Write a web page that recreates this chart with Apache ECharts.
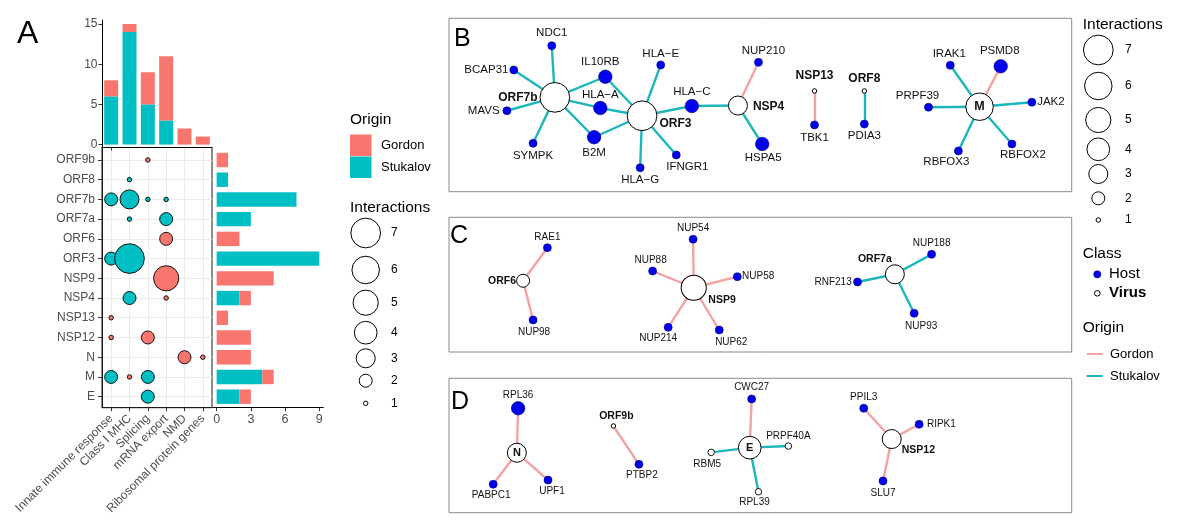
<!DOCTYPE html>
<html><head><meta charset="utf-8">
<script src="https://cdn.jsdelivr.net/npm/echarts@6/dist/echarts.min.js"></script>
<style>html,body{margin:0;padding:0;background:#fff}#c{width:1200px;height:526px}</style>
</head><body><div id="c"></div>
<script>
// ================= DATA =================
// Panel A
const functions = ['Innate immune response', 'Class I MHC', 'Splicing', 'mRNA export', 'NMD', 'Ribosomal protein genes'];
const proteins = ['ORF9b', 'ORF8', 'ORF7b', 'ORF7a', 'ORF6', 'ORF3', 'NSP9', 'NSP4', 'NSP13', 'NSP12', 'N', 'M', 'E'];
const topStukalov = [6, 14, 5, 3, 0, 0];
const topGordon = [2, 1, 4, 8, 2, 1];
const sideStukalov = [0, 1, 7, 3, 0, 9, 0, 2, 0, 0, 0, 4, 2];
const sideGordon = [1, 0, 0, 0, 2, 0, 5, 1, 1, 3, 3, 1, 1];
const topTicks = [0, 5, 10, 15];
const sideTicks = [0, 3, 6, 9];
// [protein, function, origin, interactions]
const bubbles = [
  ['ORF9b', 'Splicing', 'Gordon', 1],
  ['ORF8', 'Class I MHC', 'Stukalov', 1],
  ['ORF7b', 'Innate immune response', 'Stukalov', 2],
  ['ORF7b', 'Class I MHC', 'Stukalov', 3],
  ['ORF7b', 'Splicing', 'Stukalov', 1],
  ['ORF7b', 'mRNA export', 'Stukalov', 1],
  ['ORF7a', 'Class I MHC', 'Stukalov', 1],
  ['ORF7a', 'mRNA export', 'Stukalov', 2],
  ['ORF6', 'mRNA export', 'Gordon', 2],
  ['ORF3', 'Innate immune response', 'Stukalov', 2],
  ['ORF3', 'Class I MHC', 'Stukalov', 7],
  ['NSP9', 'mRNA export', 'Gordon', 5],
  ['NSP4', 'Class I MHC', 'Stukalov', 2],
  ['NSP4', 'mRNA export', 'Gordon', 1],
  ['NSP13', 'Innate immune response', 'Gordon', 1],
  ['NSP12', 'Innate immune response', 'Gordon', 1],
  ['NSP12', 'Splicing', 'Gordon', 2],
  ['N', 'NMD', 'Gordon', 2],
  ['N', 'Ribosomal protein genes', 'Gordon', 1],
  ['M', 'Innate immune response', 'Stukalov', 2],
  ['M', 'Class I MHC', 'Gordon', 1],
  ['M', 'Splicing', 'Stukalov', 2],
  ['E', 'Splicing', 'Gordon', 1],
  ['E', 'Splicing', 'Stukalov', 2]
];
const interactionLevels = [7, 6, 5, 4, 3, 2, 1];

// Networks: nodes [name, class, interactions], edges [source, target, origin]
const nodesB = [
  ['ORF7b', 'Virus', 7], ['ORF3', 'Virus', 7], ['NSP4', 'Virus', 3], ['NSP13', 'Virus', 1], ['ORF8', 'Virus', 1], ['M', 'Virus', 6],
  ['NDC1', 'Host', 1], ['BCAP31', 'Host', 1], ['MAVS', 'Host', 1], ['SYMPK', 'Host', 1],
  ['IL10RB', 'Host', 2], ['HLA−A', 'Host', 2], ['B2M', 'Host', 2], ['HLA−E', 'Host', 1], ['HLA−C', 'Host', 2],
  ['HLA−G', 'Host', 1], ['IFNGR1', 'Host', 1], ['NUP210', 'Host', 1], ['HSPA5', 'Host', 2], ['TBK1', 'Host', 1],
  ['PDIA3', 'Host', 1], ['IRAK1', 'Host', 1], ['PSMD8', 'Host', 2], ['PRPF39', 'Host', 1], ['JAK2', 'Host', 1],
  ['RBFOX3', 'Host', 1], ['RBFOX2', 'Host', 1]
];
const edgesB = [
  ['ORF7b', 'NDC1', 'Stukalov'], ['ORF7b', 'BCAP31', 'Stukalov'], ['ORF7b', 'MAVS', 'Stukalov'], ['ORF7b', 'SYMPK', 'Stukalov'],
  ['ORF7b', 'IL10RB', 'Stukalov'], ['ORF7b', 'HLA−A', 'Stukalov'], ['ORF7b', 'B2M', 'Stukalov'],
  ['ORF3', 'IL10RB', 'Stukalov'], ['ORF3', 'HLA−A', 'Stukalov'], ['ORF3', 'B2M', 'Stukalov'], ['ORF3', 'HLA−E', 'Stukalov'],
  ['ORF3', 'HLA−C', 'Stukalov'], ['ORF3', 'HLA−G', 'Stukalov'], ['ORF3', 'IFNGR1', 'Stukalov'],
  ['NSP4', 'HLA−C', 'Stukalov'], ['NSP4', 'NUP210', 'Gordon'], ['NSP4', 'HSPA5', 'Stukalov'],
  ['NSP13', 'TBK1', 'Gordon'], ['ORF8', 'PDIA3', 'Stukalov'],
  ['M', 'IRAK1', 'Stukalov'], ['M', 'PSMD8', 'Gordon'], ['M', 'PRPF39', 'Stukalov'], ['M', 'JAK2', 'Stukalov'],
  ['M', 'RBFOX3', 'Stukalov'], ['M', 'RBFOX2', 'Stukalov']
];
const nodesC = [
  ['ORF6', 'Virus', 2], ['NSP9', 'Virus', 5], ['ORF7a', 'Virus', 3],
  ['RAE1', 'Host', 1], ['NUP98', 'Host', 1], ['NUP54', 'Host', 1], ['NUP88', 'Host', 1], ['NUP58', 'Host', 1],
  ['NUP214', 'Host', 1], ['NUP62', 'Host', 1], ['NUP188', 'Host', 1], ['RNF213', 'Host', 1], ['NUP93', 'Host', 1]
];
const edgesC = [
  ['ORF6', 'RAE1', 'Gordon'], ['ORF6', 'NUP98', 'Gordon'],
  ['NSP9', 'NUP54', 'Gordon'], ['NSP9', 'NUP88', 'Gordon'], ['NSP9', 'NUP58', 'Gordon'], ['NSP9', 'NUP214', 'Gordon'], ['NSP9', 'NUP62', 'Gordon'],
  ['ORF7a', 'NUP188', 'Stukalov'], ['ORF7a', 'RNF213', 'Stukalov'], ['ORF7a', 'NUP93', 'Stukalov']
];
const nodesD = [
  ['N', 'Virus', 3], ['ORF9b', 'Virus', 1], ['E', 'Virus', 4], ['NSP12', 'Virus', 3],
  ['RPL36', 'Host', 2], ['PABPC1', 'Host', 1], ['UPF1', 'Host', 1], ['PTBP2', 'Host', 1], ['CWC27', 'Host', 1],
  ['RBM5', 'Other', 1], ['PRPF40A', 'Other', 1], ['RPL39', 'Other', 1],
  ['PPIL3', 'Host', 1], ['RIPK1', 'Host', 1], ['SLU7', 'Host', 1]
];
const edgesD = [
  ['N', 'RPL36', 'Gordon'], ['N', 'PABPC1', 'Gordon'], ['N', 'UPF1', 'Gordon'],
  ['ORF9b', 'PTBP2', 'Gordon'],
  ['E', 'CWC27', 'Gordon'], ['E', 'RBM5', 'Stukalov'], ['E', 'PRPF40A', 'Stukalov'], ['E', 'RPL39', 'Stukalov'],
  ['NSP12', 'PPIL3', 'Gordon'], ['NSP12', 'RIPK1', 'Gordon'], ['NSP12', 'SLU7', 'Gordon']
];
// network layout coordinates (panel units: 0-100 across, 0-100 down)
const layoutB = {
  'ORF7b': [17.0, 45.6], 'ORF3': [31.0, 56.2], 'NSP4': [46.4, 50.3], 'NSP13': [58.7, 41.9], 'ORF8': [66.7, 41.9], 'M': [85.2, 51.0],
  'NDC1': [16.5, 15.8], 'BCAP31': [10.4, 29.8], 'MAVS': [9.3, 53.3], 'SYMPK': [13.5, 72.1],
  'IL10RB': [25.1, 33.7], 'HLA−A': [24.3, 51.7], 'B2M': [23.3, 68.6], 'HLA−E': [34.0, 26.9], 'HLA−C': [39.0, 50.6],
  'HLA−G': [30.7, 86.2], 'IFNGR1': [36.5, 78.8], 'NUP210': [49.7, 25.4], 'HSPA5': [50.3, 72.5], 'TBK1': [58.7, 61.5],
  'PDIA3': [66.7, 61.0], 'IRAK1': [80.5, 27.1], 'PSMD8': [88.6, 27.7], 'PRPF39': [77.0, 51.3], 'JAK2': [93.6, 48.4],
  'RBFOX3': [81.8, 76.5], 'RBFOX2': [90.4, 72.5]
};
const layoutC = {
  'ORF6': [11.9, 47.1], 'NSP9': [39.3, 52.3], 'ORF7a': [71.6, 42.3],
  'RAE1': [15.8, 22.6], 'NUP98': [13.5, 76.2], 'NUP54': [39.2, 16.3], 'NUP88': [32.7, 39.9], 'NUP58': [46.3, 44.1],
  'NUP214': [35.2, 81.7], 'NUP62': [43.4, 83.7], 'NUP188': [77.5, 27.5], 'RNF213': [65.6, 48.0], 'NUP93': [74.7, 71.3]
};
const layoutD = {
  'N': [10.9, 55.4], 'ORF9b': [26.4, 35.5], 'E': [48.3, 51.6], 'NSP12': [71.1, 45.2],
  'RPL36': [11.1, 22.3], 'PABPC1': [7.1, 78.9], 'UPF1': [15.9, 75.7], 'PTBP2': [30.5, 64.0], 'CWC27': [48.6, 15.4],
  'RBM5': [42.1, 55.1], 'PRPF40A': [54.5, 50.4], 'RPL39': [49.7, 84.4],
  'PPIL3': [66.6, 22.3], 'RIPK1': [75.5, 34.2], 'SLU7': [69.7, 76.4]
};

// ================= STYLE =================
const FONT = '"Liberation Sans", Arial, Helvetica, sans-serif';
const GORDON = '#F8766D', STUKALOV = '#00BFC4';
const EDGE_COLOR = { Gordon: '#F4A3A3', Stukalov: '#1DB6BC' };
const HOST_BLUE = '#0000EE';
const SIZE_PX = [0, 4.5, 13, 19, 22.7, 25.2, 27.5, 29.7];
const CLASS_STYLE = {
  Virus: { fill: '#fff', stroke: '#000', bw: 1, bold: true, sizes: SIZE_PX },
  Host: { fill: HOST_BLUE, stroke: '#00007a', bw: 0.6, bold: false, sizes: [0, 8, 13.5] },
  Other: { fill: '#fff', stroke: '#000', bw: 0.9, bold: false, sizes: [0, 6.5] }
};
// label placement: [position, distance, dx, dy]
const LABEL_POS = {
  'NDC1': ['top', 3], 'BCAP31': ['left', 1], 'ORF7b': ['left', 2], 'MAVS': ['left', 3], 'SYMPK': ['bottom', 2],
  'IL10RB': ['top', 2, -5, 0], 'HLA−A': ['top', 0], 'B2M': ['bottom', 3], 'ORF3': ['right', 2, 0, 8],
  'HLA−E': ['top', 1], 'HLA−C': ['top', 1], 'HLA−G': ['bottom', 1.5], 'IFNGR1': ['bottom', 1.5, 11, 0],
  'NSP4': ['right', 5, 0, 1], 'NUP210': ['top', 1, 5, 0], 'HSPA5': ['bottom', 1, 1, 0], 'NSP13': ['top', 7],
  'TBK1': ['bottom', 2.5], 'ORF8': ['top', 3.5], 'PDIA3': ['bottom', 1], 'IRAK1': ['top', 1, -1, 0],
  'PSMD8': ['top', 2, -1, 0], 'PRPF39': ['top', 1.5, -11, 0], 'M': ['inside'], 'JAK2': ['right', 1],
  'RBFOX3': ['bottom', 0.5, -12, 0], 'RBFOX2': ['bottom', 1, 11, 0],
  'RAE1': ['top', 1], 'ORF6': ['left', 0], 'NUP98': ['bottom', 3, 1, 0], 'NUP54': ['top', 2], 'NUP88': ['top', 1.5, -2, 0],
  'NUP58': ['right', 0.5], 'NSP9': ['right', 1.5, 0, 12], 'NUP214': ['bottom', 2, -10, 0], 'NUP62': ['bottom', 2.5, 12, 0],
  'ORF7a': ['top', 0, -20, 0], 'NUP188': ['top', 2], 'RNF213': ['left', 1.5], 'NUP93': ['bottom', 4, 7, 0],
  'RPL36': ['top', 1], 'N': ['inside'], 'PABPC1': ['bottom', 2, -2, 0], 'UPF1': ['bottom', 2, 4, 0],
  'ORF9b': ['top', 2, 3, 0], 'PTBP2': ['bottom', 1.5, 3, 0], 'CWC27': ['top', 2], 'E': ['inside'],
  'RBM5': ['bottom', 3.5, -4, 0], 'PRPF40A': ['top', 1.5], 'RPL39': ['bottom', 2, -4, 0], 'PPIL3': ['top', 1.5],
  'RIPK1': ['right', 3.5], 'NSP12': ['right', 0, 0, 11], 'SLU7': ['bottom', 3]
};

const AX_TXT = '#4D4D4D', AX_TICK = '#333333';

function graphSeries(nodes, edges, layout, idx, fontSize) {
  const data = nodes.map(([name, cls, n]) => {
    const st = CLASS_STYLE[cls];
    const lp = LABEL_POS[name] || ['top', 2];
    const inside = lp[0] === 'inside';
    return {
      name: name,
      value: layout[name],
      symbolSize: st.sizes[n],
      itemStyle: { color: st.fill, borderColor: st.stroke, borderWidth: st.bw },
      label: {
        show: true, position: lp[0], distance: lp[1] || 0, offset: [lp[2] || 0, lp[3] || 0],
        fontWeight: st.bold ? 'bold' : 'normal',
        fontSize: inside ? fontSize + 1 : (st.bold ? fontSize + 0.5 : fontSize)
      }
    };
  });
  const links = edges.map(([s, t, o]) => ({ source: s, target: t, lineStyle: { color: EDGE_COLOR[o], width: 2.4, opacity: 1 } }));
  return {
    type: 'graph', layout: 'none', coordinateSystem: 'cartesian2d', xAxisIndex: idx, yAxisIndex: idx,
    data: data, links: links, roam: false, silent: true, z: 3,
    label: { show: true, formatter: '{b}', color: '#111', fontFamily: FONT, fontSize: fontSize },
    lineStyle: { opacity: 1, curveness: 0 },
    emphasis: { disabled: true }
  };
}

const fnIdx = f => functions.indexOf(f);
const prIdx = p => proteins.indexOf(p);
const bubbleSeries = ['Gordon', 'Stukalov'].map(origin => ({
  type: 'scatter', xAxisIndex: 1, yAxisIndex: 1, z: 4,
  data: bubbles.filter(b => b[2] === origin).map(b => [fnIdx(b[1]), prIdx(b[0]), b[3]]),
  symbolSize: v => SIZE_PX[v[2]],
  itemStyle: { color: origin === 'Gordon' ? GORDON : STUKALOV, borderColor: '#000', borderWidth: 0.9, opacity: 1 },
  silent: true
}));

const range = n => Array.from({ length: n }, (_, i) => i);
const hiddenAxis = (i, inv) => ({ gridIndex: i, type: 'value', min: 0, max: 100, show: false, inverse: !!inv });
const labelFont = { color: AX_TXT, fontFamily: FONT, fontSize: 12 };

// ================= LEGEND GRAPHICS =================
const G = [];
function txt(x, y, s, size, bold, color) {
  G.push({ type: 'text', x: x, y: y, silent: true, style: {
    text: s, fill: color || '#000', fontSize: size, fontFamily: FONT, fontWeight: bold ? 'bold' : 'normal',
    align: 'left', verticalAlign: 'middle', textAlign: 'left', textVerticalAlign: 'middle' } });
}
function circ(cx, cy, r, fill, stroke, lw) {
  G.push({ type: 'circle', silent: true, shape: { cx: cx, cy: cy, r: r }, style: { fill: fill, stroke: stroke, lineWidth: lw } });
}
txt(17, 34, 'A', 32);
txt(454, 39, 'B', 25);
txt(450, 236, 'C', 25);
txt(451, 402, 'D', 25);
// left legend
txt(350, 120, 'Origin', 15.5);
G.push({ type: 'rect', silent: true, shape: { x: 350, y: 134.5, width: 21.5, height: 21.5 }, style: { fill: GORDON } });
G.push({ type: 'rect', silent: true, shape: { x: 350, y: 156.5, width: 21.5, height: 21.5 }, style: { fill: STUKALOV } });
txt(381, 145.5, 'Gordon', 13);
txt(381, 167.5, 'Stukalov', 13);
txt(350, 208, 'Interactions', 15.5);
const legLeftY = [233, 270, 302.7, 332.7, 358.3, 380.7, 403.3];
interactionLevels.forEach((n, i) => { circ(365.7, legLeftY[i], SIZE_PX[n] / 2, '#fff', '#000', 1); txt(391, legLeftY[i], String(n), 12); });
// right legend
txt(1082.7, 25, 'Interactions', 15.5);
const legRightY = [50, 86, 120, 149.3, 174, 198.3, 220];
interactionLevels.forEach((n, i) => { circ(1098.3, legRightY[i], SIZE_PX[n] / 2, '#fff', '#000', 1); txt(1125, legRightY[i], String(n), 12); });
txt(1082.7, 253.3, 'Class', 15.5);
circ(1097.3, 274.3, 3.6, HOST_BLUE, '#00007a', 0.6);
txt(1109, 274.3, 'Host', 15);
circ(1097.3, 293.3, 2.8, '#fff', '#000', 1);
txt(1109, 293.3, 'Virus', 15, true);
txt(1082.7, 327.3, 'Origin', 15.5);
G.push({ type: 'line', silent: true, shape: { x1: 1086.7, y1: 354, x2: 1102.7, y2: 354 }, style: { stroke: EDGE_COLOR.Gordon, lineWidth: 2 } });
G.push({ type: 'line', silent: true, shape: { x1: 1086.7, y1: 376, x2: 1102.7, y2: 376 }, style: { stroke: EDGE_COLOR.Stukalov, lineWidth: 2 } });
txt(1110, 354, 'Gordon', 13);
txt(1110, 376, 'Stukalov', 13);

// ================= OPTION =================
const panelBorder = { show: true, borderColor: '#8a8a8a', borderWidth: 1, backgroundColor: 'transparent', containLabel: false, outerBoundsMode: 'none' };
const option = {
  animation: false,
  backgroundColor: '#fff',
  textStyle: { fontFamily: FONT },
  grid: [
    { left: 102, top: 20, width: 110, height: 127, containLabel: false, outerBoundsMode: 'none' },
    { left: 102, top: 147.5, width: 110, height: 260.2, show: true, borderColor: '#1a1a1a', borderWidth: 1, backgroundColor: 'transparent', containLabel: false, outerBoundsMode: 'none' },
    { left: 213, top: 150.14, width: 110.3, height: 256.4, containLabel: false, outerBoundsMode: 'none' },
    Object.assign({ left: 449, top: 18.3, width: 622.7, height: 173.4 }, panelBorder),
    Object.assign({ left: 449, top: 217.3, width: 622.7, height: 134.7 }, panelBorder),
    Object.assign({ left: 449, top: 378.3, width: 622.7, height: 134.4 }, panelBorder)
  ],
  xAxis: [
    { gridIndex: 0, type: 'category', data: functions, boundaryGap: true,
      axisLine: { show: true, onZero: false, lineStyle: { color: '#000', width: 1 } },
      axisTick: { show: true, alignWithLabel: true, length: 3.5, lineStyle: { color: AX_TICK } },
      axisLabel: { show: false }, splitLine: { show: false } },
    { gridIndex: 1, type: 'value', min: -0.5, max: 5.5, position: 'bottom',
      axisLine: { show: true, onZero: false, lineStyle: { color: '#1a1a1a', width: 1 } },
      axisTick: { show: true, length: 3.5, customValues: range(6), lineStyle: { color: AX_TICK } },
      axisLabel: Object.assign({ customValues: range(6), formatter: v => functions[Math.round(v)], rotate: 45, margin: 9 }, labelFont),
      splitLine: { show: true, lineStyle: { color: '#EBEBEB', width: 1 } } },
    { gridIndex: 2, type: 'value', min: -0.32, max: 9.35, offset: 1.2, position: 'bottom',
      axisLine: { show: true, onZero: false, lineStyle: { color: '#000', width: 1 } },
      axisTick: { show: true, length: 3.5, customValues: sideTicks, lineStyle: { color: AX_TICK } },
      axisLabel: Object.assign({ customValues: sideTicks, margin: 5 }, labelFont, { fontSize: 12.5 }),
      splitLine: { show: false } },
    hiddenAxis(3), hiddenAxis(4), hiddenAxis(5)
  ],
  yAxis: [
    { gridIndex: 0, type: 'value', min: -0.3, max: 15.5, position: 'left',
      axisLine: { show: true, onZero: false, lineStyle: { color: '#000', width: 1 } },
      axisTick: { show: true, length: 3.5, customValues: topTicks, lineStyle: { color: AX_TICK } },
      axisLabel: Object.assign({ customValues: topTicks, margin: 4.5 }, labelFont),
      splitLine: { show: false } },
    { gridIndex: 1, type: 'value', inverse: true, min: -0.63, max: 12.56, position: 'left',
      axisLine: { show: true, onZero: false, lineStyle: { color: '#1a1a1a', width: 1 } },
      axisTick: { show: true, length: 4, customValues: range(13), lineStyle: { color: AX_TICK } },
      axisLabel: Object.assign({ customValues: range(13), formatter: v => proteins[Math.round(v)], margin: 7 }, labelFont),
      splitLine: { show: true, lineStyle: { color: '#EBEBEB', width: 1 } } },
    { gridIndex: 2, type: 'category', data: proteins, inverse: true, show: false },
    hiddenAxis(3, true), hiddenAxis(4, true), hiddenAxis(5, true)
  ],
  series: [
    { type: 'bar', name: 'Stukalov', xAxisIndex: 0, yAxisIndex: 0, stack: 'top', data: topStukalov, barWidth: 14, itemStyle: { color: STUKALOV }, silent: true },
    { type: 'bar', name: 'Gordon', xAxisIndex: 0, yAxisIndex: 0, stack: 'top', data: topGordon, barWidth: 14, itemStyle: { color: GORDON }, silent: true },
    { type: 'bar', name: 'Stukalov', xAxisIndex: 2, yAxisIndex: 2, stack: 'side', data: sideStukalov, barWidth: 14.4, itemStyle: { color: STUKALOV }, silent: true },
    { type: 'bar', name: 'Gordon', xAxisIndex: 2, yAxisIndex: 2, stack: 'side', data: sideGordon, barWidth: 14.4, itemStyle: { color: GORDON }, silent: true },
    ...bubbleSeries,
    graphSeries(nodesB, edgesB, layoutB, 3, 11.5),
    graphSeries(nodesC, edgesC, layoutC, 4, 10),
    graphSeries(nodesD, edgesD, layoutD, 5, 10)
  ],
  graphic: G
};
const chart = echarts.init(document.getElementById('c'), null, { renderer: 'canvas' });
chart.setOption(option);
</script></body></html>
